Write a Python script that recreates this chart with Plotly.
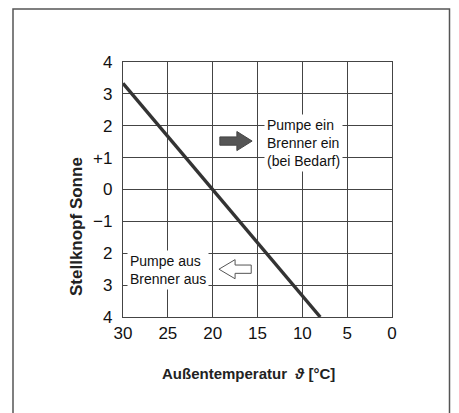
import plotly.graph_objects as go

# data
temp_line = [30, 8]
knob_line = [10 / 3, -4]
x_ticks = [30, 25, 20, 15, 10, 5, 0]
x_ticklabels = ["30", "25", "20", "15", "10", "5", "0"]
y_ticks = [4, 3, 2, 1, 0, -1, -2, -3, -4]
y_ticklabels = ["4", "3", "2", "+1", "0", "\u22121", "2", "3", "4"]

OFF = 8  # page body margin
W, H = 451, 405
L, R, T, B = 115, 67, 54, 96
pw, ph = W - L - R, H - T - B

def px(xp):
    return (xp - OFF - L) / pw

def py(yp):
    return 1 - (yp - OFF - T) / ph

fig = go.Figure()
fig.add_trace(go.Scatter(x=temp_line, y=knob_line, mode="lines",
                         line=dict(color="#333", width=3.4),
                         hoverinfo="skip", showlegend=False))

font_main = "Liberation Sans, Arial, sans-serif"

shapes = []
# outer frame
shapes.append(dict(type="rect", xref="paper", yref="paper",
                   x0=px(13), x1=px(449.5), y0=py(420), y1=py(9),
                   line=dict(color="#555", width=1.5), layer="below"))
# filled arrow (right)
shapes.append(dict(type="path", xref="x", yref="y",
                   path="M 19.2,1.39 L 17.3,1.39 L 17.3,1.22 L 15.6,1.52 L 17.3,1.82 L 17.3,1.65 L 19.2,1.65 Z",
                   fillcolor="#555", line=dict(color="#444", width=1)))
# hollow arrow (left)
shapes.append(dict(type="path", xref="x", yref="y",
                   path="M 15.7,-2.37 L 17.5,-2.37 L 17.5,-2.2 L 19.3,-2.5 L 17.5,-2.8 L 17.5,-2.63 L 15.7,-2.63 Z",
                   fillcolor="white", line=dict(color="#555", width=1)))

annotations = [
    dict(x=px(264), y=py(143), xref="paper", yref="paper", xanchor="left", yanchor="middle",
         text="Pumpe ein<br>Brenner ein<br>(bei Bedarf)", showarrow=False, align="left",
         font=dict(family=font_main, size=14, color="#111"), bgcolor="white", borderpad=2),
    dict(x=px(127), y=py(270), xref="paper", yref="paper", xanchor="left", yanchor="middle",
         text="Pumpe aus<br>Brenner aus", showarrow=False, align="left",
         font=dict(family=font_main, size=14, color="#111"), bgcolor="white", borderpad=2),
    dict(x=px(248), y=py(373), xref="paper", yref="paper", xanchor="center", yanchor="middle",
         text="Außentemperatur  <i>ϑ</i> [°C]", showarrow=False,
         font=dict(family=font_main, size=15, color="#222", weight="bold")),
    dict(x=px(76), y=py(227), xref="paper", yref="paper", xanchor="center", yanchor="middle",
         text="Stellknopf Sonne", showarrow=False, textangle=-90,
         font=dict(family=font_main, size=17, color="#222", weight="bold")),
]

fig.update_layout(
    width=W, height=H,
    margin=dict(l=L, r=R, t=T, b=B),
    paper_bgcolor="white", plot_bgcolor="white",
    shapes=shapes, annotations=annotations,
    xaxis=dict(range=[30, 0], tickvals=x_ticks, ticktext=x_ticklabels,
               showgrid=True, gridcolor="#444", gridwidth=1, zeroline=False,
               showline=True, linecolor="#444", linewidth=1.2, mirror=True,
               ticks="", ticklen=0,
               tickfont=dict(family=font_main, size=17, color="#111")),
    yaxis=dict(range=[-4, 4], tickvals=y_ticks, ticktext=y_ticklabels,
               showgrid=True, gridcolor="#444", gridwidth=1, zeroline=False,
               showline=True, linecolor="#444", linewidth=1.2, mirror=True,
               ticks="", ticklen=0, ticklabelstandoff=6,
               tickfont=dict(family=font_main, size=17, color="#111")),
)

fig.write_html("out.html")
